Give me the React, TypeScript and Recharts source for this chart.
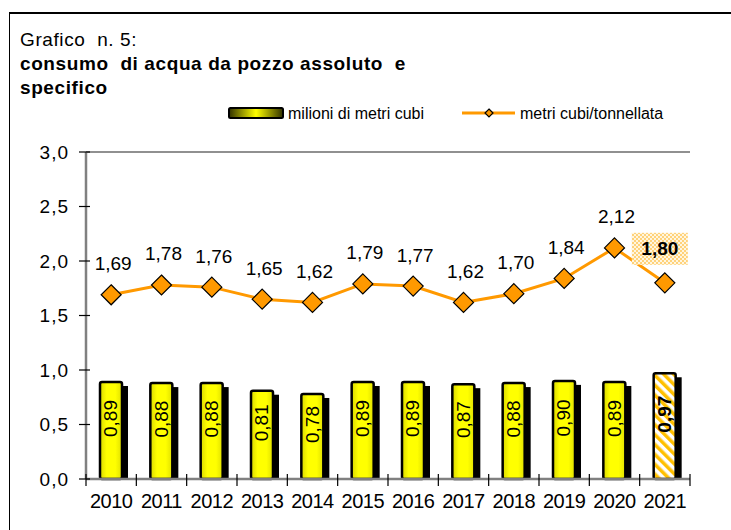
import React from 'react';
import { ComposedChart, Bar, Line, XAxis, YAxis, Legend, ReferenceLine, LabelList } from 'recharts';

const years = ['2010', '2011', '2012', '2013', '2014', '2015', '2016', '2017', '2018', '2019', '2020', '2021'];
const volumeMm3 = [0.89, 0.88, 0.88, 0.81, 0.78, 0.89, 0.89, 0.87, 0.88, 0.9, 0.89, 0.97];
const cubicPerTonne = [1.69, 1.78, 1.76, 1.65, 1.62, 1.79, 1.77, 1.62, 1.7, 1.84, 2.12, 1.8];
const yTicks = [0, 0.5, 1, 1.5, 2, 2.5, 3];
const highlightYear = '2021';
const barLegend = 'milioni di metri cubi';
const lineLegend = 'metri cubi/tonnellata';
const titleLine1 = 'Grafico  n. 5:';
const titleLine2 = 'consumo  di acqua da pozzo assoluto  e';
const titleLine3 = 'specifico';

const data = years.map((year, i) => ({ year, volume: volumeMm3[i], specific: cubicPerTonne[i] }));

const FONT = "'Liberation Sans', Arial, Helvetica, sans-serif";
const fmt2 = (v: number) => v.toFixed(2).replace('.', ',');
const fmt1 = (v: number) => v.toFixed(1).replace('.', ',');

const BarShape = (props: any) => {
  const { x, y, width, height, payload } = props;
  if (height == null || height <= 0) return null;
  const hl = payload && payload.year === highlightYear;
  return (
    <g>
      <rect x={x + 6} y={y + 4} width={width} height={Math.max(0, height - 4)} fill="#000" />
      <rect
        x={x}
        y={y}
        width={width}
        height={height}
        rx={2}
        fill={hl ? 'url(#stripes)' : 'url(#yellowGrad)'}
        stroke="#000"
        strokeWidth={2.5}
      />
    </g>
  );
};

const BarLabel = (props: any) => {
  const { x, y, width, height, value, index } = props;
  const cx = x + width / 2;
  const cy = y + height / 2 - 12;
  const hl = years[index] === highlightYear;
  return (
    <text
      x={cx}
      y={cy}
      transform={`rotate(-90, ${cx}, ${cy})`}
      textAnchor="middle"
      dominantBaseline="central"
      fontFamily={FONT}
      fontSize={19}
      fontWeight={hl ? 'bold' : 'normal'}
      fill="#000"
    >
      {fmt2(value)}
    </text>
  );
};

const LineLabel = (props: any) => {
  const { x, y, value, index } = props;
  const hl = years[index] === highlightYear;
  const lx = x + (hl ? -5 : 2);
  const ly = hl ? y - 34 : y - 31;
  return (
    <g>
      {hl && <rect x={lx - 28} y={ly - 16} width={56} height={32} fill="url(#checker)" />}
      <text
        x={lx}
        y={ly}
        textAnchor="middle"
        dominantBaseline="central"
        fontFamily={FONT}
        fontSize={19}
        fontWeight={hl ? 'bold' : 'normal'}
        fill="#000"
      >
        {fmt2(value)}
      </text>
    </g>
  );
};

const Diamond = (props: any) => {
  const { cx, cy } = props;
  if (cx == null || cy == null) return null;
  const r = 10;
  return (
    <polygon
      points={`${cx},${cy - r} ${cx + r},${cy} ${cx},${cy + r} ${cx - r},${cy}`}
      fill="#FF9900"
      stroke="#000"
      strokeWidth={1.2}
    />
  );
};

const YTick = (props: any) => {
  const { x, y, payload } = props;
  return (
    <g>
      <line x1={x - 7} x2={x + 4} y1={y} y2={y} stroke="#000" strokeWidth={1.2} />
      <text
        x={x - 17}
        y={y}
        textAnchor="end"
        dominantBaseline="central"
        fontFamily={FONT}
        fontSize={19}
        letterSpacing={1}
        fill="#000"
      >
        {fmt1(payload.value)}
      </text>
    </g>
  );
};

const XTick = (props: any) => {
  const { x, y, payload, index, width, visibleTicksCount } = props;
  const half =
    payload && typeof payload.offset === 'number' && payload.offset > 0
      ? payload.offset
      : width / visibleTicksCount / 2;
  const last = index === visibleTicksCount - 1;
  return (
    <g>
      <line x1={x - half} x2={x - half} y1={y - 5} y2={y + 7} stroke="#000" strokeWidth={1.2} />
      {last && <line x1={x + half} x2={x + half} y1={y - 5} y2={y + 7} stroke="#000" strokeWidth={1.2} />}
      <text x={x} y={y + 29} textAnchor="middle" fontFamily={FONT} fontSize={20} letterSpacing={-0.5} fill="#000">
        {payload.value}
      </text>
    </g>
  );
};

const LegendContent = () => (
  <div style={{ position: 'relative', width: 0, height: 0, overflow: 'visible' }}>
    <svg width={731} height={24} style={{ position: 'absolute', left: 0, top: 0, overflow: 'visible' }}>
      <rect x={229} y={8} width={54} height={10} rx={1.5} fill="url(#legendGrad)" stroke="#000" strokeWidth={2} />
      <text x={288} y={13} dominantBaseline="central" fontFamily={FONT} fontSize={16}>
        {barLegend}
      </text>
      <line x1={462} x2={515} y1={13} y2={13} stroke="#FF9900" strokeWidth={3} />
      <polygon points="489,9 493,13 489,17 485,13" fill="#FF9900" stroke="#000" strokeWidth={1.2} />
      <text x={520} y={13} dominantBaseline="central" fontFamily={FONT} fontSize={16}>
        {lineLegend}
      </text>
    </svg>
  </div>
);

export default function App() {
  return (
    <div style={{ position: 'fixed', left: 0, top: 0, width: 731, height: 530, background: '#fff', overflow: 'hidden' }}>
      <svg width={0} height={0} style={{ position: 'absolute' }}>
        <defs>
          <linearGradient id="yellowGrad" x1="0" y1="0" x2="1" y2="0">
            <stop offset="0%" stopColor="#D8D800" />
            <stop offset="30%" stopColor="#FFFF00" />
            <stop offset="70%" stopColor="#FFFF00" />
            <stop offset="100%" stopColor="#E0E000" />
          </linearGradient>
          <linearGradient id="legendGrad" x1="0" y1="0" x2="1" y2="0">
            <stop offset="0%" stopColor="#303000" />
            <stop offset="50%" stopColor="#FFFF00" />
            <stop offset="100%" stopColor="#303000" />
          </linearGradient>
          <pattern id="stripes" patternUnits="userSpaceOnUse" width={7} height={7} patternTransform="rotate(-45)">
            <rect width={7} height={7} fill="#fff" />
            <rect width={3.5} height={7} fill="#FFC000" />
          </pattern>
          <pattern id="checker" patternUnits="userSpaceOnUse" width={4} height={4}>
            <rect width={4} height={4} fill="#FFD27A" />
            <rect width={2} height={2} fill="#FFF6E0" />
            <rect x={2} y={2} width={2} height={2} fill="#FFF6E0" />
          </pattern>
        </defs>
      </svg>
      <div
        style={{
          position: 'absolute',
          left: 9,
          top: 12,
          width: 730,
          height: 530,
          borderTop: '2px solid #000',
          borderLeft: '1.5px solid #000',
          boxSizing: 'border-box',
        }}
      />
      <div
        style={{
          position: 'absolute',
          left: 20,
          top: 28,
          fontFamily: FONT,
          fontSize: 19,
          lineHeight: '24px',
          color: '#000',
          whiteSpace: 'pre',
          letterSpacing: 0.6,
        }}
      >
        <div>{titleLine1}</div>
        <div style={{ fontWeight: 'bold' }}>{titleLine2}</div>
        <div style={{ fontWeight: 'bold' }}>{titleLine3}</div>
      </div>
      <div style={{ position: 'absolute', left: 0, top: 0 }}>
        <ComposedChart width={731} height={530} data={data} margin={{ top: 152, right: 41, bottom: 19, left: 16 }}>
          <XAxis
            dataKey="year"
            xAxisId="cat"
            height={32}
            axisLine={{ stroke: '#808080', strokeWidth: 2.5 }}
            tickLine={false}
            tickSize={0}
            tickMargin={0}
            interval={0}
            tick={<XTick />}
          />
          <YAxis
            yAxisId="v"
            width={70}
            domain={[0, 3]}
            ticks={yTicks}
            axisLine={{ stroke: '#808080', strokeWidth: 2.5 }}
            tickLine={false}
            tickSize={0}
            tickMargin={0}
            tick={<YTick />}
            interval={0}
          />
          <YAxis
            yAxisId="r"
            orientation="right"
            width={0}
            domain={[0, 3]}
            tick={false}
            tickLine={false}
            axisLine={{ stroke: '#909090', strokeWidth: 2 }}
          />
          <ReferenceLine yAxisId="v" xAxisId="cat" y={3} stroke="#909090" strokeWidth={2} />
          <Legend
            verticalAlign="bottom"
            align="center"
            layout="horizontal"
            content={<LegendContent />}
            wrapperStyle={{ top: 100, left: 0, bottom: 'auto', width: 0, height: 0 }}
          />
          <Bar
            xAxisId="cat"
            yAxisId="v"
            dataKey="volume"
            name={barLegend}
            barSize={22}
            shape={<BarShape />}
            isAnimationActive={false}
          >
            <LabelList dataKey="volume" content={<BarLabel />} />
          </Bar>
          <Line
            xAxisId="cat"
            yAxisId="v"
            dataKey="specific"
            name={lineLegend}
            stroke="#FF9900"
            strokeWidth={3}
            dot={<Diamond />}
            activeDot={false}
            isAnimationActive={false}
          >
            <LabelList dataKey="specific" content={<LineLabel />} />
          </Line>
        </ComposedChart>
      </div>
    </div>
  );
}
